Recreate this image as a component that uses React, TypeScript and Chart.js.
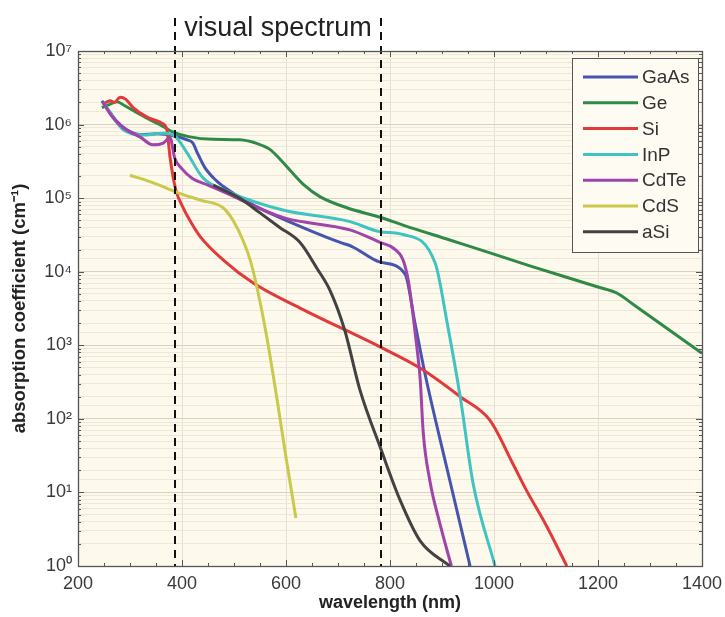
import React, { useEffect, useRef } from 'react';
import { Chart, registerables } from 'chart.js';

Chart.register(...registerables);

// ---------- data ----------
const seriesNames = ['GaAs', 'Ge', 'Si', 'InP', 'CdTe', 'CdS', 'aSi'];
const seriesColors = ['#4655ad', '#2e8a46', '#e23a3a', '#40c3c3', '#a043aa', '#c9c94c', '#424242'];

const gaasWl = [246, 262, 275, 294, 320, 352, 386, 410, 421, 429, 444, 467, 479, 500, 544, 600, 704, 727, 781, 829, 848, 867, 909, 954];
const gaasAbs = [2.1e6, 1.45e6, 1.1e6, 8.5e5, 7.3e5, 7.5e5, 7.0e5, 6.2e5, 5.6e5, 4.2e5, 2.6e5, 1.7e5, 1.45e5, 1.15e5, 7.6e4, 5.0e4, 2.5e4, 2.2e4, 1.35e4, 9.3e3, 2.0e3, 420, 22, 1];

const geWl = [246, 262, 275, 290, 310, 340, 365, 383, 415, 460, 511, 545, 569, 590, 610, 635, 665, 717, 781, 825, 915, 973, 1069, 1200, 1237, 1270, 1400];
const geAbs = [1.7e6, 1.9e6, 2.05e6, 1.8e6, 1.5e6, 1.15e6, 9.3e5, 7.9e5, 6.8e5, 6.3e5, 6.2e5, 5.5e5, 4.6e5, 3.3e5, 2.3e5, 1.5e5, 1.05e5, 7.4e4, 5.5e4, 4.3e4, 2.7e4, 2.0e4, 1.2e4, 6.2e3, 5.1e3, 3.5e3, 7.8e2];

const siWl = [248, 262, 270, 281, 292, 306, 333, 361, 371, 377, 388, 400, 415, 435, 479, 537, 627, 781, 858, 935, 992, 1037, 1063, 1101, 1140];
const siAbs = [1.9e6, 2.1e6, 2.0e6, 2.35e6, 2.2e6, 1.7e6, 1.26e6, 1.05e6, 8.5e5, 3.6e5, 1.3e5, 8.0e4, 5.0e4, 3.0e4, 1.45e4, 7.0e3, 3.2e3, 950, 490, 200, 96, 24, 10.5, 3.5, 1];

const inpWl = [248, 260, 271, 287, 325, 364, 386, 410, 440, 492, 594, 723, 781, 825, 887, 910, 935, 960, 1002];
const inpAbs = [2.0e6, 1.5e6, 1.15e6, 8.5e5, 7.2e5, 7.6e5, 7.0e5, 4.1e5, 1.9e5, 1.2e5, 6.9e4, 4.8e4, 3.5e4, 3.2e4, 1.3e4, 2.0e3, 200, 13, 1];

const cdteWl = [248, 265, 287, 319, 344, 364, 377, 386, 400, 420, 450, 500, 550, 600, 723, 781, 806, 825, 835, 844, 852, 858, 864, 877, 895, 918];
const cdteAbs = [2.0e6, 1.3e6, 9.0e5, 6.8e5, 5.3e5, 5.6e5, 6.6e5, 3.5e5, 2.5e5, 1.85e5, 1.5e5, 1.05e5, 7.2e4, 5.3e4, 3.7e4, 2.5e4, 2.1e4, 1.45e4, 7.7e3, 2.7e3, 900, 350, 64, 14, 4, 1];

const cdsWl = [300, 340, 390, 435, 479, 498, 517, 531, 544, 563, 583, 600, 619];
const cdsAbs = [2.05e5, 1.66e5, 1.2e5, 9.4e4, 7.4e4, 5.0e4, 2.7e4, 1.45e4, 6.2e3, 1.3e3, 180, 30, 4.5];

const asiWl = [460, 511, 550, 588, 627, 660, 685, 713, 742, 783, 819, 858, 915];
const asiAbs = [1.5e5, 1.0e5, 6.3e4, 4.0e4, 2.5e4, 1.1e4, 5.5e3, 1.6e3, 250, 38, 8, 2.2, 1];

const seriesWl = [gaasWl, geWl, siWl, inpWl, cdteWl, cdsWl, asiWl];
const seriesAbs = [gaasAbs, geAbs, siAbs, inpAbs, cdteAbs, cdsAbs, asiAbs];

const xTickValues = [200, 400, 600, 800, 1000, 1200, 1400];
const visualBounds = [387, 783];
const spectrumLabel = 'visual spectrum';
const xTitle = 'wavelength (nm)';
const yTitle = 'absorption coefficient (cm\u207B\u00B9)';

const SUP: Record<string, string> = { '0': '\u2070', '1': '\u00B9', '2': '\u00B2', '3': '\u00B3', '4': '\u2074', '5': '\u2075', '6': '\u2076', '7': '\u2077', '8': '\u2078', '9': '\u2079' };
const FONT = '"Liberation Sans", Arial, Helvetica, sans-serif';
const PLOT_BG = '#fdf9ec';

const isDecade = (v: number) => {
  if (!v || v <= 0) return false;
  const l = Math.log10(v);
  return Math.abs(l - Math.round(l)) < 1e-6;
};

const decorPlugin = {
  id: 'decor',
  beforeDraw(chart: any) {
    const { ctx, chartArea: a } = chart;
    ctx.save();
    ctx.fillStyle = PLOT_BG;
    ctx.fillRect(a.left, a.top, a.right - a.left, a.bottom - a.top);
    ctx.restore();
  },
  afterDatasetsDraw(chart: any) {
    const { ctx, chartArea: a } = chart;
    const xs = chart.scales.x;
    ctx.save();
    ctx.strokeStyle = '#111';
    ctx.lineWidth = 2;
    ctx.setLineDash([8, 6]);
    const px = visualBounds.map((b) => Math.round(xs.getPixelForValue(b)));
    px.forEach((p) => {
      ctx.beginPath();
      ctx.moveTo(p, 18);
      ctx.lineTo(p, a.bottom);
      ctx.stroke();
    });
    ctx.setLineDash([]);
    ctx.fillStyle = '#222';
    ctx.font = `27px ${FONT}`;
    ctx.textAlign = 'center';
    ctx.textBaseline = 'alphabetic';
    ctx.fillText(spectrumLabel, (px[0] + px[1]) / 2, 36);
    ctx.restore();
  },
  afterDraw(chart: any) {
    const { ctx, chartArea: a } = chart;
    const xs = chart.scales.x;
    const ys = chart.scales.y;
    ctx.save();
    // axis ticks (inside)
    ctx.strokeStyle = '#555';
    ctx.lineWidth = 1;
    ctx.beginPath();
    for (let d = 0; d < 7; d++) {
      for (let k = 1; k <= 9; k++) {
        const v = k * Math.pow(10, d);
        const py = Math.round(ys.getPixelForValue(v)) + 0.5;
        const len = k === 1 ? 6 : 3;
        ctx.moveTo(a.left, py);
        ctx.lineTo(a.left + len, py);
        ctx.moveTo(a.right, py);
        ctx.lineTo(a.right - len, py);
      }
    }
    for (let w = 200; w <= 1400; w += 50) {
      const p = Math.round(xs.getPixelForValue(w)) + 0.5;
      const len = w % 200 === 0 ? 6 : 3;
      ctx.moveTo(p, a.bottom);
      ctx.lineTo(p, a.bottom - len);
      ctx.moveTo(p, a.top);
      ctx.lineTo(p, a.top + len);
    }
    ctx.stroke();
    // border
    ctx.strokeStyle = '#555';
    ctx.lineWidth = 1.3;
    ctx.strokeRect(Math.round(a.left) + 0.5, Math.round(a.top) + 0.5, Math.round(a.right - a.left), Math.round(a.bottom - a.top));

    // legend
    const bx = 572.5, by = 58.5, bw = 126, bh = 194;
    ctx.fillStyle = '#fefbf3';
    ctx.fillRect(bx, by, bw, bh);
    ctx.strokeStyle = '#555';
    ctx.lineWidth = 1;
    ctx.strokeRect(bx, by, bw, bh);
    ctx.font = `19px ${FONT}`;
    ctx.textAlign = 'left';
    ctx.textBaseline = 'middle';
    chart.data.datasets.forEach((ds: any, i: number) => {
      const yy = 77 + i * 25.8;
      ctx.strokeStyle = ds.borderColor;
      ctx.lineWidth = 3;
      ctx.beginPath();
      ctx.moveTo(583, yy);
      ctx.lineTo(638, yy);
      ctx.stroke();
      ctx.fillStyle = '#333';
      ctx.fillText(ds.label, 642, yy + 1);
    });
    ctx.restore();
  },
};

export default function App() {
  const ref = useRef<HTMLCanvasElement | null>(null);

  useEffect(() => {
    if (!ref.current) return;
    const datasets = seriesNames.map((name, i) => ({
      label: name,
      data: seriesWl[i].map((w, j) => ({ x: w, y: seriesAbs[i][j] })),
      borderColor: seriesColors[i],
      backgroundColor: seriesColors[i],
      borderWidth: 3,
      pointRadius: 0,
      cubicInterpolationMode: 'monotone' as const,
      order: seriesNames.length - i,
      fill: false,
    }));

    const chart = new Chart(ref.current, {
      type: 'line',
      data: { datasets },
      plugins: [decorPlugin],
      options: {
        animation: false,
        responsive: false,
        devicePixelRatio: 1,
        layout: { padding: { top: 51, right: 23, left: 0, bottom: 0 } },
        plugins: {
          legend: { display: false },
          tooltip: { enabled: false },
        },
        scales: {
          x: {
            type: 'linear',
            min: 200,
            max: 1400,
            afterFit: (s: any) => { s.height = 51; s.paddingLeft = 0; s.paddingRight = 0; },
            afterBuildTicks: (s: any) => { s.ticks = xTickValues.map((v) => ({ value: v })); },
            ticks: {
              color: '#3a3a3a',
              font: { family: FONT, size: 18 },
              padding: 7,
              maxRotation: 0,
              callback: (v: any) => String(v),
            },
            grid: { color: '#e7e1d1', drawTicks: false, lineWidth: 1 },
            border: { display: false },
            title: {
              display: true,
              text: xTitle,
              color: '#222',
              font: { family: FONT, size: 18, weight: 'bold' },
              padding: { top: 0, bottom: 3 },
            },
          },
          y: {
            type: 'logarithmic',
            min: 1,
            max: 1e7,
            afterFit: (s: any) => { s.width = 78; s.paddingTop = 0; s.paddingBottom = 0; },
            ticks: {
              autoSkip: false,
              color: '#3a3a3a',
              font: { family: FONT, size: 18 },
              padding: 6,
              callback: (v: any) => {
                const n = Number(v);
                if (!isDecade(n)) return '';
                const e = Math.round(Math.log10(n));
                return '10' + String(e).split('').map((c) => SUP[c]).join('');
              },
            },
            grid: {
              drawTicks: false,
              color: (c: any) => (c.tick && isDecade(c.tick.value) ? '#d8d1bf' : '#eee8d8'),
              lineWidth: 1,
            },
            border: { display: false },
            title: {
              display: true,
              text: yTitle,
              color: '#222',
              font: { family: FONT, size: 18.5, weight: 'bold' },
              padding: { top: 9, bottom: 0 },
            },
          },
        },
      } as any,
    });
    return () => chart.destroy();
  }, []);

  return (
    <div style={{ position: 'absolute', left: 0, top: 0, width: 725, height: 617, background: '#fff' }}>
      <canvas ref={ref} width={725} height={617} style={{ width: 725, height: 617, display: 'block' }} />
    </div>
  );
}
